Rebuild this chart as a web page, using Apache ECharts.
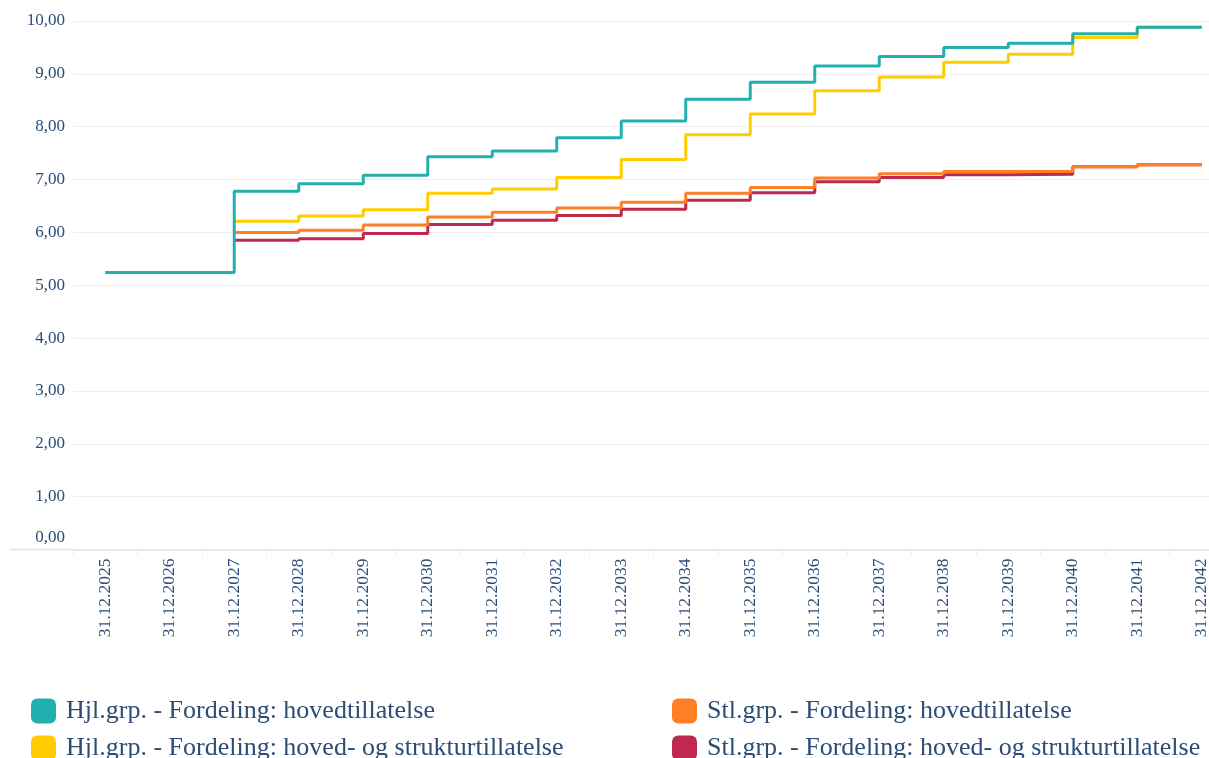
<!DOCTYPE html>
<html>
<head>
<meta charset="utf-8">
<script src="https://cdn.jsdelivr.net/npm/echarts@6/dist/echarts.min.js"></script>
<style>
  html, body { margin: 0; padding: 0; background: #ffffff; overflow: hidden; }
  #wrap { width: 1209px; height: 758px; overflow: hidden; position: relative; }
  #chart { width: 1234px; height: 800px; }
</style>
</head>
<body>
<div id="wrap"><div id="chart"></div></div>
<script>
// Year-end dates on the category axis
const categories = [
  '31.12.2025', '31.12.2026', '31.12.2027', '31.12.2028', '31.12.2029', '31.12.2030',
  '31.12.2031', '31.12.2032', '31.12.2033', '31.12.2034', '31.12.2035', '31.12.2036',
  '31.12.2037', '31.12.2038', '31.12.2039', '31.12.2040', '31.12.2041', '31.12.2042'
];

// Series names
const nameHjlHoved = 'Hjl.grp. - Fordeling: hovedtillatelse';
const nameHjlStruktur = 'Hjl.grp. - Fordeling: hoved- og strukturtillatelse';
const nameStlHoved = 'Stl.grp. - Fordeling: hovedtillatelse';
const nameStlStruktur = 'Stl.grp. - Fordeling: hoved- og strukturtillatelse';

// Values per year-end (the split series begin in 2027)
const hjlHoved = [5.24, 5.24, 6.78, 6.92, 7.08, 7.43, 7.54, 7.79, 8.11, 8.52, 8.84, 9.15, 9.33, 9.50, 9.58, 9.76, 9.88, 9.88];
const hjlStruktur = [null, null, 6.21, 6.31, 6.43, 6.74, 6.82, 7.04, 7.38, 7.85, 8.24, 8.68, 8.94, 9.22, 9.37, 9.69, 9.88, 9.88];
const stlHoved = [null, null, 6.00, 6.04, 6.14, 6.29, 6.38, 6.46, 6.57, 6.74, 6.85, 7.03, 7.11, 7.15, 7.15, 7.24, 7.28, 7.28];
const stlStruktur = [null, null, 5.85, 5.88, 5.98, 6.15, 6.23, 6.32, 6.44, 6.61, 6.75, 6.96, 7.04, 7.09, 7.10, 7.24, 7.28, 7.28];

// Colours
const cTeal = '#22b0ae';
const cYellow = '#ffcc00';
const cOrange = '#ff7f27';
const cRed = '#c0284f';

const textColor = '#2b4d77';
const serif = '"Liberation Serif", "DejaVu Serif", serif';

function fmt(v) {
  return v.toFixed(2).replace('.', ',');
}

function stepSeries(name, data, color) {
  return {
    name: name,
    type: 'line',
    step: 'end',
    data: data,
    symbol: 'none',
    color: color,
    lineStyle: { color: color, width: 3 },
    emphasis: { disabled: true }
  };
}

function legendBlock(names, left) {
  return {
    data: names,
    orient: 'vertical',
    left: left,
    top: 693,
    itemWidth: 25,
    itemHeight: 25,
    itemGap: 11,
    icon: 'roundRect',
    selectedMode: false,
    textStyle: { color: textColor, fontFamily: serif, fontSize: 26, padding: [0, 0, 0, 5] }
  };
}

const chart = echarts.init(document.getElementById('chart'));
chart.setOption({
  animation: false,
  backgroundColor: '#ffffff',
  grid: { left: 73, right: 0, top: 21, height: 528.5, containLabel: false },
  xAxis: {
    type: 'category',
    data: categories,
    boundaryGap: true,
    axisLine: { show: true, lineStyle: { color: '#e3e3e3', width: 1.5 } },
    axisTick: { show: true, length: 6, lineStyle: { color: '#eeeeee', width: 1 } },
    axisLabel: {
      rotate: 90,
      interval: 0,
      margin: 9,
      color: textColor,
      fontFamily: serif,
      fontSize: 17.5
    },
    splitLine: { show: false }
  },
  yAxis: {
    type: 'value',
    min: 0,
    max: 10,
    interval: 1,
    axisLine: { show: false },
    axisTick: { show: false },
    axisLabel: {
      margin: 8,
      color: textColor,
      fontFamily: serif,
      fontSize: 17,
      formatter: function (v) {
        return v === 0 ? '{z|' + fmt(v) + '}' : fmt(v);
      },
      rich: {
        z: { padding: [0, 0, 24, 0], color: textColor, fontFamily: serif, fontSize: 17 }
      }
    },
    splitLine: { show: true, lineStyle: { color: '#eeeeee', width: 1.2 } }
  },
  legend: [
    legendBlock([nameHjlHoved, nameHjlStruktur], 26),
    legendBlock([nameStlHoved, nameStlStruktur], 667)
  ],
  graphic: [
    {
      type: 'line',
      shape: { x1: 10, y1: 549.5, x2: 74, y2: 549.5 },
      style: { stroke: '#e3e3e3', lineWidth: 1.5 },
      silent: true
    }
  ],
  series: [
    stepSeries(nameStlStruktur, stlStruktur, cRed),
    stepSeries(nameStlHoved, stlHoved, cOrange),
    stepSeries(nameHjlStruktur, hjlStruktur, cYellow),
    stepSeries(nameHjlHoved, hjlHoved, cTeal)
  ]
});

// Keep the small step risers: line paths skip segments shorter than 2px by default,
// so shrink that threshold and have the paths rebuilt.
const zr = chart.getZr();
zr.storage.getDisplayList(true).forEach(function (el) {
  if (el.segmentIgnoreThreshold) {
    el.segmentIgnoreThreshold = 0.01;
    if (el.dirtyShape) { el.dirtyShape(); } else { el.markRedraw(); }
  }
});
zr.refreshImmediately();
</script>
</body>
</html>
